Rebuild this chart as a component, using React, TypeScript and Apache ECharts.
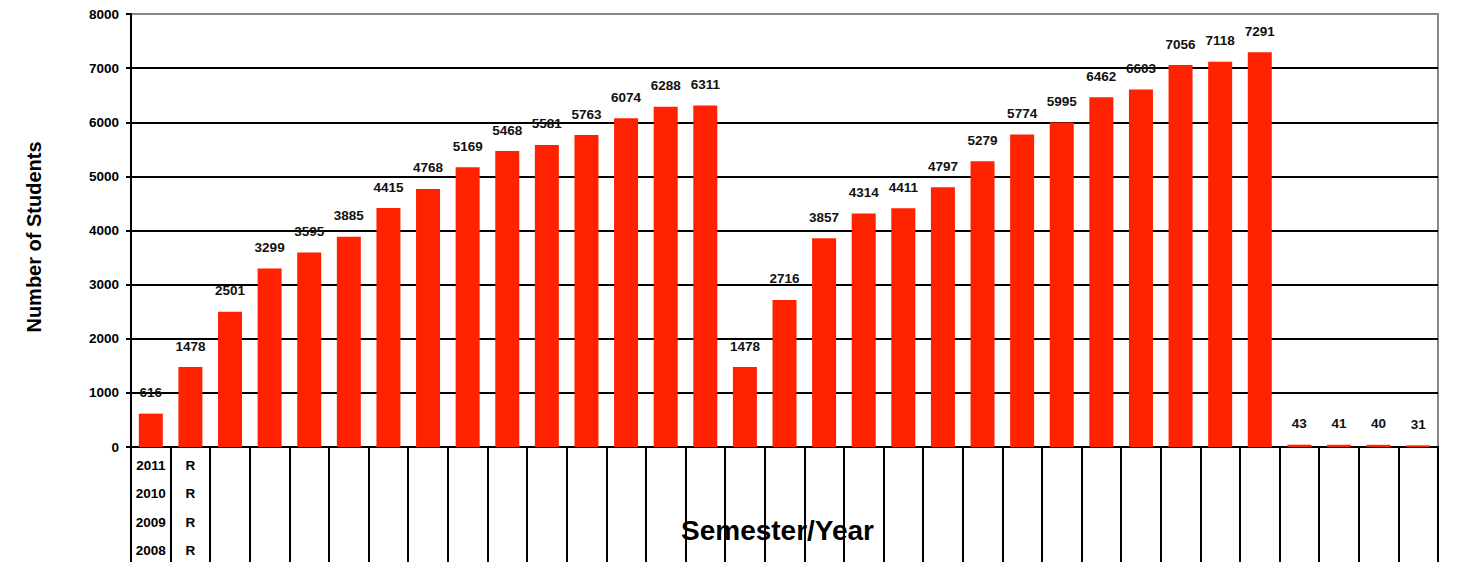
import React, { useEffect, useRef } from "react";
import * as echarts from "echarts";

const values = [
  616, 1478, 2501, 3299, 3595, 3885, 4415, 4768, 5169, 5468, 5581, 5763, 6074, 6288, 6311,
  1478, 2716, 3857, 4314, 4411, 4797, 5279, 5774, 5995, 6462, 6603, 7056, 7118, 7291,
  43, 41, 40, 31,
];
const yearRows = ["2011", "2010", "2009", "2008"];
const termRows = ["R", "R", "R", "R"];
const yTicks = [0, 1000, 2000, 3000, 4000, 5000, 6000, 7000, 8000];

const categories = values.map((_, i) =>
  i === 0 ? yearRows.join("\n") : i === 1 ? termRows.join("\n") : " ".repeat(i)
);

const FONT = "Liberation Sans, Arial, sans-serif";

export default function App() {
  const ref = useRef<HTMLDivElement>(null);
  useEffect(() => {
    if (!ref.current) return;
    const chart = echarts.init(ref.current, null, { renderer: "svg" });
    chart.setOption({
      animation: false,
      grid: {
        left: 131,
        right: 27,
        top: 14,
        bottom: 115,
        show: true,
        borderColor: "#888",
        borderWidth: 2,
        containLabel: false,
        outerBoundsMode: "none",
      },
      xAxis: {
        type: "category",
        data: categories,
        name: "Semester/Year",
        nameLocation: "middle",
        nameGap: 69,
        nameMoveOverlap: false,
        nameTextStyle: {
          fontFamily: FONT,
          fontWeight: "bold",
          fontSize: 28,
          color: "#000",
          padding: [0, 14, 0, 0],
        },
        axisLine: { show: true, lineStyle: { color: "#000", width: 2 } },
        axisTick: { show: true, interval: 0, length: 115, lineStyle: { color: "#000", width: 2 } },
        axisLabel: {
          interval: 0,
          margin: 4,
          fontFamily: FONT,
          fontWeight: "bold",
          fontSize: 13.5,
          color: "#000",
          lineHeight: 28.5,
        },
      },
      yAxis: {
        type: "value",
        min: 0,
        max: 8000,
        interval: 1000,
        name: "Number of Students",
        nameLocation: "middle",
        nameGap: 87,
        nameMoveOverlap: false,
        nameTextStyle: {
          fontFamily: FONT,
          fontWeight: "bold",
          fontSize: 20,
          color: "#000",
          padding: [0, 13, 0, 0],
        },
        axisLine: { show: true, lineStyle: { color: "#000", width: 2 } },
        axisTick: { show: true, length: 5, lineStyle: { color: "#000", width: 2 } },
        axisLabel: {
          margin: 12,
          fontFamily: FONT,
          fontWeight: "bold",
          fontSize: 13.5,
          color: "#000",
          formatter: (v: number) => (yTicks.includes(v) ? String(v) : ""),
        },
        splitLine: {
          show: true,
          lineStyle: {
            color: ["#000", "#000", "#000", "#000", "#000", "#000", "#000", "#000", "#888"],
            width: 2,
          },
        },
      },
      series: [
        {
          type: "bar",
          data: values,
          barWidth: 24,
          itemStyle: { color: "#FF2200" },
          label: {
            show: true,
            position: "top",
            distance: 14,
            fontFamily: FONT,
            fontWeight: "bold",
            fontSize: 13.5,
            color: "#111",
          },
        },
      ],
    });
    return () => chart.dispose();
  }, []);
  return (
    <div
      ref={ref}
      style={{ position: "absolute", left: 0, top: 0, width: 1465, height: 562 }}
    />
  );
}
